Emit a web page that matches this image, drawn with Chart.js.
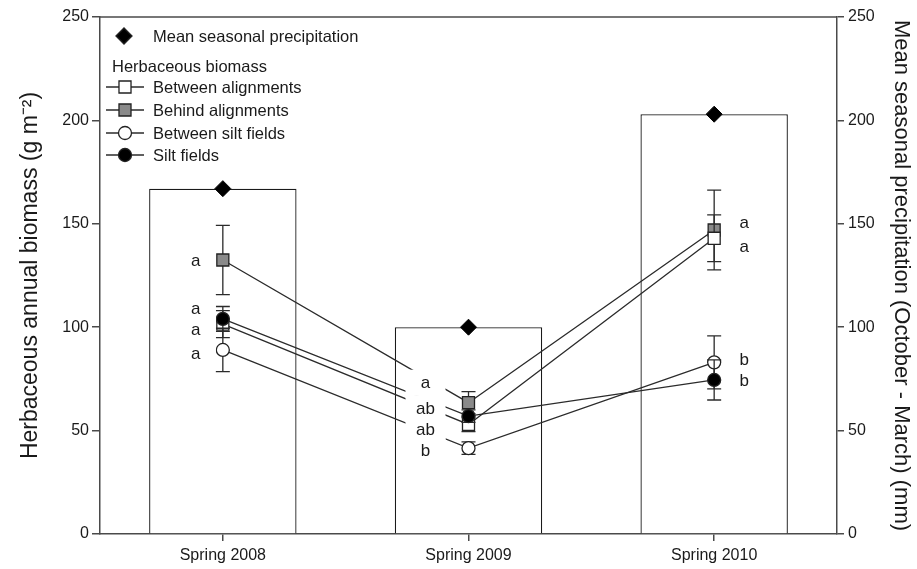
<!DOCTYPE html>
<html>
<head>
<meta charset="utf-8">
<script src="https://cdn.jsdelivr.net/npm/chart.js@4.4.1/dist/chart.umd.min.js"></script>
<style>
  html, body { margin: 0; padding: 0; background: #fff; }
  #wrap { width: 917px; height: 569px; }
</style>
</head>
<body>
<div id="wrap"><canvas id="c" width="917" height="569"></canvas></div>
<script>
// Seasons on the x axis
const seasons = ['Spring 2008', 'Spring 2009', 'Spring 2010'];

// Mean seasonal precipitation, October - March (mm)
const precipitation = [167, 100, 203];

// Herbaceous annual biomass (g m-2), means and standard errors
const betweenAlignments   = [101.5, 53, 143];
const betweenAlignmentsSE = [6.5, 3.5, 11.3];
const behindAlignments    = [132.5, 63.5, 147];
const behindAlignmentsSE  = [16.7, 5.3, 19.3];
const betweenSiltFields   = [89, 41.5, 83];
const betweenSiltFieldsSE = [10.5, 3, 12.8];
const siltFields          = [104, 57, 74.5];
const siltFieldsSE        = [6, 3, 9.7];

// Significance letters for each group and season
const betweenAlignmentsLetters = ['a', 'ab', 'a'];
const behindAlignmentsLetters  = ['a', 'a', 'a'];
const betweenSiltFieldsLetters = ['a', 'b', 'b'];
const siltFieldsLetters        = ['a', 'ab', 'b'];

// Placement of the letters relative to each point (pixels)
const letterDx = [-27, -43, 30];
const letterDy = {
  betweenAlignments: [5, 5, 8],
  behindAlignments:  [0, -20, -8],
  betweenSiltFields: [3, 2, -3],
  siltFields:        [-11, -8, 0]
};

const FONT = "'Liberation Sans', Arial, Helvetica, sans-serif";
const LINE = '#2b2b2b';
const AXIS = '#4a4a4a';

function marker(ctx, style, fill, x, y, r) {
  ctx.save();
  ctx.fillStyle = fill;
  ctx.strokeStyle = '#222';
  ctx.lineWidth = 1.3;
  if (Chart.helpers && Chart.helpers.drawPoint) {
    Chart.helpers.drawPoint(ctx, { pointStyle: style, radius: r, rotation: 0, borderWidth: 1.3 }, x, y);
  } else {
    ctx.beginPath();
    if (style === 'circle') ctx.arc(x, y, r, 0, Math.PI * 2);
    else if (style === 'rectRot') { ctx.moveTo(x, y - r); ctx.lineTo(x + r, y); ctx.lineTo(x, y + r); ctx.lineTo(x - r, y); ctx.closePath(); }
    else { const s = r * Math.SQRT1_2; ctx.rect(x - s, y - s, 2 * s, 2 * s); }
    ctx.fill(); ctx.stroke();
  }
  ctx.restore();
}

const groups = [
  { key: 'behindAlignments',  label: 'Behind alignments',    data: behindAlignments,  se: behindAlignmentsSE,  letters: behindAlignmentsLetters,  style: 'rect',   fill: '#8a8a8a', r: 8.5, order: 5 },
  { key: 'betweenAlignments', label: 'Between alignments',   data: betweenAlignments, se: betweenAlignmentsSE, letters: betweenAlignmentsLetters, style: 'rect',   fill: '#ffffff', r: 8.5, order: 4 },
  { key: 'betweenSiltFields', label: 'Between silt fields',  data: betweenSiltFields, se: betweenSiltFieldsSE, letters: betweenSiltFieldsLetters, style: 'circle', fill: '#ffffff', r: 6.5, order: 3 },
  { key: 'siltFields',        label: 'Silt fields',          data: siltFields,        se: siltFieldsSE,        letters: siltFieldsLetters,        style: 'circle', fill: '#000000', r: 6.5, order: 2 }
];

const lineDatasets = groups.map(g => ({
  type: 'line',
  label: g.label,
  yAxisID: 'y',
  data: g.data,
  se: g.se,
  letters: g.letters,
  groupKey: g.key,
  borderColor: LINE,
  borderWidth: 1.3,
  pointStyle: g.style,
  pointRadius: g.r,
  pointBackgroundColor: g.fill,
  pointBorderColor: '#222',
  pointBorderWidth: 1.3,
  fill: false,
  tension: 0,
  order: g.order
}));

// Error bars drawn just under each group's line and markers
const errorBars = {
  id: 'errorBars',
  beforeDatasetDraw(chart, args) {
    const ds = chart.data.datasets[args.index];
    if (!ds.se) return;
    const meta = args.meta;
    const ys = chart.scales.y;
    const ctx = chart.ctx;
    ctx.save();
    ctx.strokeStyle = LINE;
    ctx.lineWidth = 1.3;
    meta.data.forEach((pt, i) => {
      const x = pt.x;
      const top = ys.getPixelForValue(ds.data[i] + ds.se[i]);
      const bot = ys.getPixelForValue(ds.data[i] - ds.se[i]);
      ctx.beginPath();
      ctx.moveTo(x, top); ctx.lineTo(x, bot);
      ctx.moveTo(x - 7, top); ctx.lineTo(x + 7, top);
      ctx.moveTo(x - 7, bot); ctx.lineTo(x + 7, bot);
      ctx.stroke();
    });
    ctx.restore();
  }
};

// Letters beside the points, on a white patch
const letterLabels = {
  id: 'letterLabels',
  afterDatasetsDraw(chart) {
    const ctx = chart.ctx;
    const xs = chart.scales.x, ys = chart.scales.y;
    ctx.save();
    ctx.font = '17px ' + FONT;
    ctx.textAlign = 'center';
    ctx.textBaseline = 'middle';
    chart.data.datasets.forEach(ds => {
      if (!ds.letters) return;
      ds.letters.forEach((t, i) => {
        const x = xs.getPixelForValue(i) + letterDx[i];
        const y = ys.getPixelForValue(ds.data[i]) + letterDy[ds.groupKey][i];
        ctx.fillStyle = '#fff';
        ctx.fillRect(x - 20, y - 13, 40, 26);
        ctx.fillStyle = '#1a1a1a';
        ctx.fillText(t, x, y + 1);
      });
    });
    ctx.restore();
  }
};

// Closed frame and legend box content
const frameAndKey = {
  id: 'frameAndKey',
  afterDraw(chart) {
    const ctx = chart.ctx;
    const a = chart.chartArea;
    ctx.save();
    ctx.strokeStyle = AXIS;
    ctx.lineWidth = 1.5;
    ctx.beginPath();
    ctx.moveTo(a.left, a.top); ctx.lineTo(a.right, a.top);
    ctx.stroke();

    ctx.font = '16.5px ' + FONT;
    ctx.textBaseline = 'middle';
    ctx.textAlign = 'left';
    ctx.fillStyle = '#1a1a1a';

    marker(ctx, 'rectRot', '#000', 124, 36, 8);
    ctx.fillText('Mean seasonal precipitation', 153, 37);
    ctx.fillText('Herbaceous biomass', 112, 67);

    const rows = [
      { label: 'Between alignments',  style: 'rect',   fill: '#ffffff', r: 8.5, y: 87 },
      { label: 'Behind alignments',   style: 'rect',   fill: '#8a8a8a', r: 8.5, y: 110 },
      { label: 'Between silt fields', style: 'circle', fill: '#ffffff', r: 6.5, y: 133 },
      { label: 'Silt fields',         style: 'circle', fill: '#000000', r: 6.5, y: 155 }
    ];
    rows.forEach(row => {
      ctx.strokeStyle = LINE;
      ctx.lineWidth = 1.3;
      ctx.beginPath();
      ctx.moveTo(106, row.y); ctx.lineTo(144, row.y);
      ctx.stroke();
      marker(ctx, row.style, row.fill, 125, row.y, row.r);
      ctx.fillStyle = '#1a1a1a';
      ctx.fillText(row.label, 153, row.y + 1);
    });
    ctx.restore();
  }
};

const tickFont = { family: FONT, size: 16 };

new Chart(document.getElementById('c'), {
  type: 'bar',
  data: {
    labels: seasons,
    datasets: [
      {
        type: 'line',
        label: 'Mean seasonal precipitation',
        yAxisID: 'y2',
        data: precipitation,
        showLine: false,
        pointStyle: 'rectRot',
        pointRadius: 8,
        pointBackgroundColor: '#000',
        pointBorderColor: '#000',
        order: 0
      },
      ...lineDatasets,
      {
        type: 'bar',
        label: 'Precipitation',
        yAxisID: 'y2',
        data: precipitation,
        backgroundColor: '#ffffff',
        borderColor: '#1a1a1a',
        borderWidth: 1.3,
        barPercentage: 0.6,
        categoryPercentage: 1,
        order: 10
      }
    ]
  },
  options: {
    responsive: false,
    devicePixelRatio: 1,
    animation: false,
    layout: { padding: { top: 17, left: 0, right: 0, bottom: 0 } },
    plugins: { legend: { display: false }, tooltip: { enabled: false }, title: { display: false } },
    scales: {
      x: {
        type: 'category',
        offset: true,
        grid: { offset: false, drawOnChartArea: false, drawTicks: true, tickLength: 7, color: AXIS, lineWidth: 1.5 },
        border: { display: true, color: AXIS, width: 1.5 },
        ticks: { font: tickFont, color: '#1a1a1a', padding: 5, maxRotation: 0 },
        afterFit(s) { s.height = 35; }
      },
      y: {
        position: 'left',
        min: 0, max: 250,
        ticks: { stepSize: 50, font: tickFont, color: '#1a1a1a', padding: 3 },
        grid: { drawOnChartArea: false, drawTicks: true, tickLength: 8, color: AXIS, lineWidth: 1.5 },
        border: { display: true, color: AXIS, width: 1.5 },
        title: { display: true, text: 'Herbaceous annual biomass (g m⁻²)', font: { family: FONT, size: 23 }, color: '#1a1a1a', padding: { top: 17, bottom: 0 } },
        afterFit(s) { s.width = 100; }
      },
      y2: {
        position: 'right',
        min: 0, max: 250,
        ticks: { stepSize: 50, font: tickFont, color: '#1a1a1a', padding: 4 },
        grid: { drawOnChartArea: false, drawTicks: true, tickLength: 7, color: AXIS, lineWidth: 1.5 },
        border: { display: true, color: AXIS, width: 1.5 },
        title: { display: true, text: 'Mean seasonal precipitation (October - March) (mm)', font: { family: FONT, size: 22 }, color: '#1a1a1a', padding: { top: 3, bottom: 0 } },
        afterFit(s) { s.width = 80; }
      }
    }
  },
  plugins: [errorBars, letterLabels, frameAndKey]
});
</script>
</body>
</html>
